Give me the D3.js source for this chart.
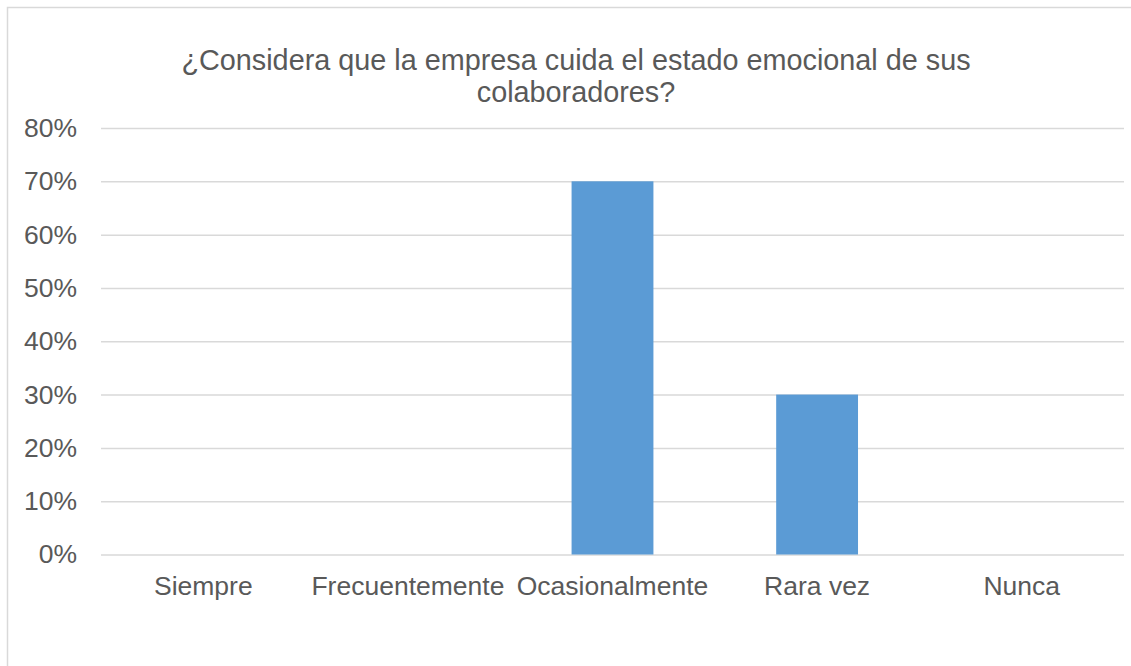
<!DOCTYPE html>
<html><head><meta charset="utf-8">
<script src="https://cdn.jsdelivr.net/npm/d3@7"></script>
<style>body{margin:0;background:#fff;overflow:hidden}svg{display:block;overflow:hidden}</style>
</head><body>
<svg id="c" width="1131" height="666"></svg>
<script>
const categories = ["Siempre","Frecuentemente","Ocasionalmente","Rara vez","Nunca"];
const values = [0, 0, 0.70, 0.30, 0];
const yTicks = [0,0.1,0.2,0.3,0.4,0.5,0.6,0.7,0.8];
const titleLines = ["¿Considera que la empresa cuida el estado emocional de sus","colaboradores?"];

const svg = d3.select("#c");
const font = "'Liberation Sans', Arial, sans-serif";
svg.append("rect").attr("x",7.5).attr("y",7.5).attr("width",1300).attr("height",800)
  .attr("fill","#fff").attr("stroke","#d9d9d9").attr("stroke-width",1.5);

const m = {l:101, r:1124, t:128, b:554.5};
const x = d3.scaleBand().domain(categories).range([m.l,m.r]).paddingInner(0.6).paddingOuter(0.3);
const y = d3.scaleLinear().domain([0,0.8]).range([m.b,m.t]);

const ya = svg.append("g").attr("transform",`translate(${m.l},0)`)
  .call(d3.axisLeft(y).tickValues(yTicks).tickFormat(d3.format(".0%")).tickSize(-(m.r-m.l)).tickPadding(24));
ya.select(".domain").remove();
ya.selectAll("line").attr("stroke","#d9d9d9").attr("stroke-width",1.5);
ya.selectAll("text").attr("fill","#595959").style("font-family",font).style("font-size","26.5px");

svg.append("g").selectAll("rect").data(categories).join("rect")
  .attr("x",d=>x(d)).attr("width",x.bandwidth())
  .attr("y",(d,i)=>y(values[i])).attr("height",(d,i)=>y(0)-y(values[i]))
  .attr("fill","#5B9BD5");

const xa = svg.append("g").attr("transform",`translate(0,${m.b})`)
  .call(d3.axisBottom(x).tickSize(0).tickPadding(22));
xa.select(".domain").remove();
xa.selectAll("text").attr("fill","#595959").style("font-family",font).style("font-size","26.5px");

svg.append("text").attr("text-anchor","middle").attr("fill","#595959")
  .style("font-family",font).style("font-size","28.8px")
  .selectAll("tspan").data(titleLines).join("tspan")
  .attr("x",576).attr("y",(d,i)=>70+i*32).text(d=>d);
</script>
</body></html>
